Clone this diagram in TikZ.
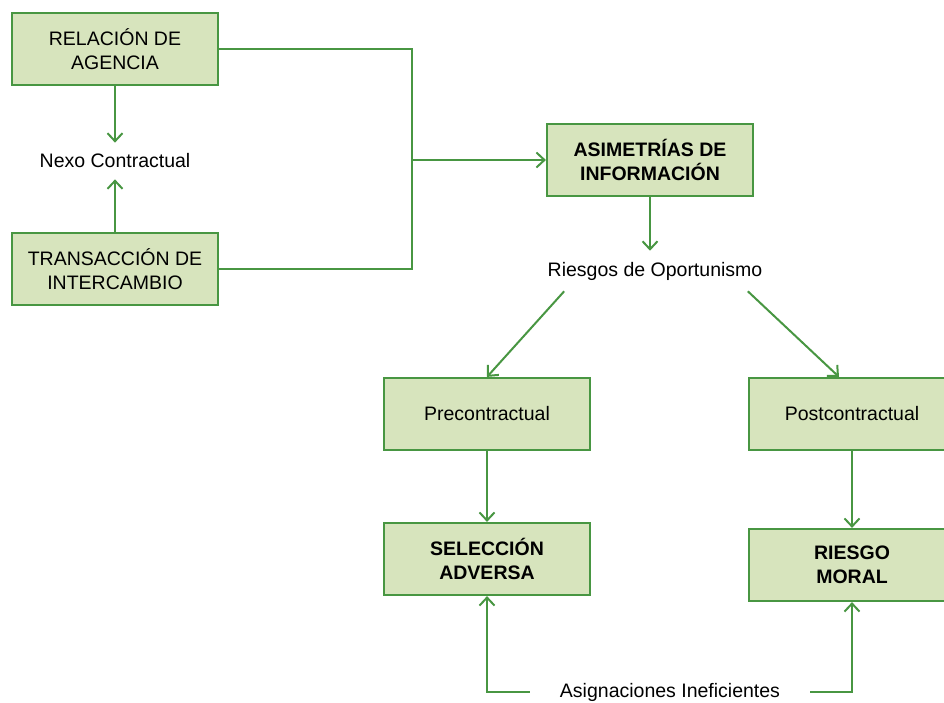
\documentclass[tikz,border=0pt]{standalone}
\usepackage{fontspec}
\setmainfont{Liberation Sans}
\usetikzlibrary{arrows.meta}
\definecolor{boxgreen}{RGB}{72,150,66}
\definecolor{boxfill}{RGB}{215,228,189}
\tikzset{
  caja/.style={draw=boxgreen,fill=boxfill,line width=2.2pt,minimum width=206pt,minimum height=72pt,align=center,font=\fontsize{19.5}{24}\selectfont},
  rotulo/.style={inner ysep=11pt,font=\fontsize{19.5}{24}\selectfont},
  flecha/.style={draw=boxgreen,line width=2pt,-{Straight Barb[length=8pt,width=15pt]}},
  linea/.style={draw=boxgreen,line width=2pt}
}
\begin{document}
\begin{tikzpicture}[x=1pt,y=-1pt]
%\draw [help lines, color=lightgray] (0,0) grid (944,702);
\useasboundingbox (0,0) rectangle (944,702);
\node [caja] (rel) at (115,49) {RELACIÓN DE\\AGENCIA};
\node [rotulo] (nexo) at (115,161) {Nexo Contractual};
\node [caja] (trans) at (115,269) {TRANSACCIÓN DE\\INTERCAMBIO};
\node [caja,font=\fontsize{19.5}{24}\selectfont\bfseries] (asim) at (650,160) {ASIMETRÍAS DE\\INFORMACIÓN};
\node [rotulo] (riesgos) at (655,271) {Riesgos de Oportunismo};
\node [caja] (pre) at (487,414) {Precontractual};
\node [caja] (post) at (852,414) {Postcontractual};
\node [caja,font=\fontsize{19.5}{24}\selectfont\bfseries] (sel) at (487,559) {SELECCIÓN\\ADVERSA};
\node [caja,font=\fontsize{19.5}{24}\selectfont\bfseries] (moral) at (852,565) {RIESGO\\MORAL};
\node [rotulo,inner xsep=30pt,inner ysep=3pt] (asig) at (670,692) {Asignaciones Ineficientes};
\coordinate (junta) at (412,160);

\draw [flecha] (rel) -- (nexo);
\draw [flecha] (trans) -- (nexo);
\draw [linea] (rel.east) -| (junta) |- (trans.east);
\draw [flecha] (junta) -- (junta -| asim.west);
\draw [flecha] (asim.south) -- (asim.south |- riesgos.north);
\draw [flecha] ([xshift=20pt]riesgos.south west) -- (pre.north);
\draw [flecha] ([xshift=-18pt]riesgos.south east) -- ([xshift=-13pt]post.north);
\draw [flecha] (pre) -- (sel);
\draw [flecha] (post) -- (moral);
\draw [flecha] (asig.west) -| (sel.south);
\draw [flecha] (asig.east) -| (moral.south);
\end{tikzpicture}
\end{document}
